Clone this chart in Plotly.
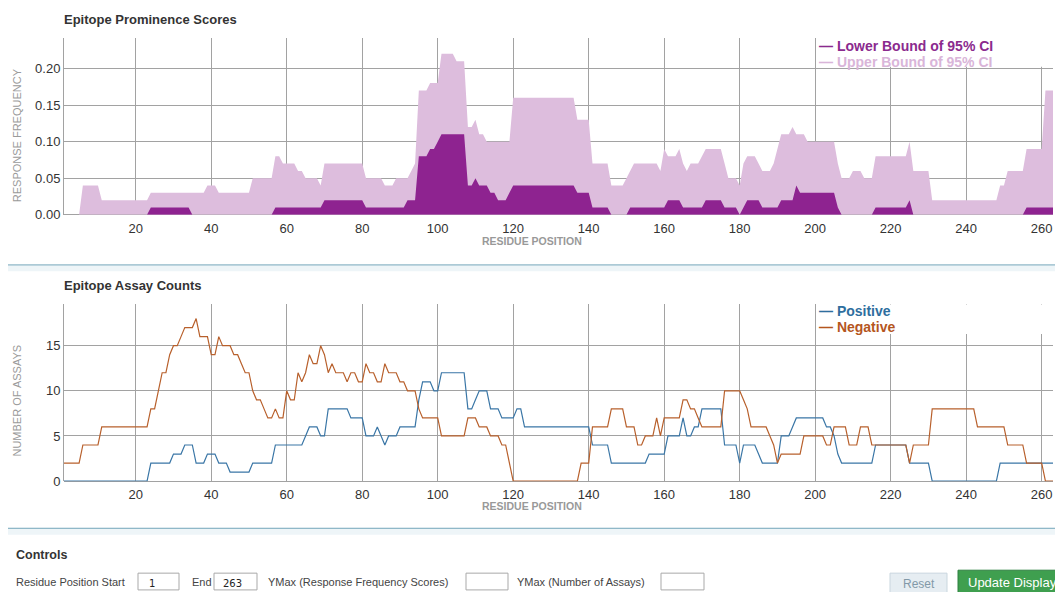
import plotly.graph_objects as go

# ---------------- data ----------------
x_ticks = [20, 40, 60, 80, 100, 120, 140, 160, 180, 200, 220, 240, 260]
y1_ticks = [0, 0.05, 0.10, 0.15, 0.20]
y1_ticktext = ["0.00", "0.05", "0.10", "0.15", "0.20"]
y2_ticks = [0, 5, 10, 15]

# step runs: value holds for residues (previous end + 1) .. end
upper_ends = [5, 10, 23, 38, 41, 50, 56, 58, 62, 64, 68, 69, 80, 85, 88, 92, 93, 94, 97, 100,
              104, 107, 109, 110, 112, 119, 136, 140, 145, 149, 150, 151, 158, 159, 160, 163, 164, 165, 166, 169,
              170, 175, 176, 179, 180, 181, 184, 185, 188, 189, 190, 193, 194, 197, 205, 206, 209, 212, 215, 224,
              225, 230, 248, 250, 255, 260, 263]
upper_vals = [0, 0.04, 0.02, 0.03, 0.04, 0.03, 0.05, 0.08, 0.07, 0.06, 0.05, 0.04, 0.07, 0.05, 0.04, 0.05, 0.06, 0.07, 0.17, 0.18,
              0.22, 0.21, 0.12, 0.13, 0.11, 0.10, 0.16, 0.13, 0.07, 0.04, 0.05, 0.06, 0.07, 0.06, 0.09, 0.08, 0.09, 0.07, 0.06, 0.07,
              0.08, 0.09, 0.07, 0.05, 0.04, 0.07, 0.08, 0.07, 0.06, 0.07, 0.09, 0.11, 0.12, 0.11, 0.10, 0.07, 0.05, 0.06, 0.05, 0.08,
              0.10, 0.06, 0.02, 0.04, 0.06, 0.09, 0.17]

lower_ends = [23, 34, 56, 69, 80, 91, 94, 97, 99, 100, 107, 109, 110, 113, 115, 118, 119, 136, 140, 145,
              150, 160, 164, 170, 175, 179, 180, 181, 185, 190, 194, 195, 205, 206, 215, 224, 225, 255, 263]
lower_vals = [0, 0.01, 0, 0.01, 0.02, 0.01, 0.02, 0.08, 0.09, 0.10, 0.11, 0.04, 0.05, 0.04, 0.03, 0.02, 0.03, 0.04, 0.03, 0.01,
              0, 0.01, 0.02, 0.01, 0.02, 0.01, 0, 0.01, 0.02, 0.01, 0.02, 0.04, 0.03, 0.01, 0, 0.01, 0.02, 0, 0.01]

pos_ends = [23, 29, 32, 35, 38, 41, 44, 50, 56, 64, 65, 68, 70, 76, 80, 83, 84, 85, 86, 89,
            94, 95, 98, 100, 107, 109, 110, 113, 116, 120, 122, 140, 145, 155, 160, 164, 165, 167, 169, 175,
            179, 180, 184, 185, 190, 193, 194, 202, 204, 205, 206, 215, 224, 230, 248, 263]
pos_vals = [0, 2, 3, 4, 2, 3, 2, 1, 2, 4, 5, 6, 5, 8, 7, 5, 6, 5, 4, 5,
            6, 9, 11, 10, 12, 8, 9, 10, 8, 7, 8, 6, 4, 2, 3, 5, 7, 5, 6, 8,
            4, 2, 4, 3, 2, 5, 6, 7, 6, 5, 3, 2, 4, 2, 0, 2]

neg_ends = [5, 10, 23, 25, 26, 28, 29, 31, 32, 35, 36, 39, 41, 42, 45, 47, 48, 50, 51, 53,
            54, 56, 57, 59, 60, 62, 63, 64, 65, 66, 68, 69, 70, 71, 72, 75, 76, 78, 80, 81,
            83, 85, 86, 89, 91, 94, 95, 100, 107, 110, 113, 116, 118, 119, 137, 140, 145, 149, 152, 154,
            157, 158, 159, 164, 166, 168, 169, 175, 180, 181, 182, 187, 188, 189, 190, 196, 202, 204, 208, 211,
            214, 224, 225, 230, 242, 250, 255, 260, 263]
neg_vals = [2, 4, 6, 8, 10, 12, 14, 15, 16, 17, 18, 16, 14, 16, 15, 14, 13, 12, 10, 9,
            8, 7, 8, 7, 10, 9, 12, 11, 12, 14, 13, 15, 14, 12, 13, 12, 11, 12, 11, 13,
            12, 11, 13, 12, 11, 10, 8, 7, 5, 7, 6, 5, 4, 2, 0, 2, 6, 8, 6, 4,
            5, 7, 5, 7, 9, 8, 7, 6, 10, 9, 8, 6, 5, 4, 2, 3, 5, 4, 6, 4,
            6, 4, 2, 4, 8, 6, 4, 2, 0]


def expand(ends, vals):
    out, start = [], 1
    for e, v in zip(ends, vals):
        out.extend([v] * (e - start + 1))
        start = e + 1
    return out


residues = list(range(1, 264))
upper = expand(upper_ends, upper_vals)
lower = expand(lower_ends, lower_vals)
positive = expand(pos_ends, pos_vals)
negative = expand(neg_ends, neg_vals)

# ---------------- page geometry ----------------
# The page body keeps the browser's default 8px margin, so the figure is sized to
# fill the 1063x600 window exactly and positions are given in window pixels.
PAGE_W, PAGE_H, M = 1063, 600, 8
W, H = PAGE_W - 2 * M, PAGE_H - 2 * M


def fx(p):
    return (p - M) / W


def fy(p):
    return 1 - (p - M) / H


GRID = "#A2A2A2"
TICKFONT = dict(family="Liberation Sans, Arial, sans-serif", size=13, color="#333333")
C_UP = "#DDBDDD"
C_LO = "#8E2390"
C_POS = "#3A76A6"
C_NEG = "#B8602C"

fig = go.Figure()
fig.add_trace(go.Scatter(x=residues, y=upper, mode="lines", fill="tozeroy",
                         fillcolor=C_UP, line=dict(width=0, color=C_UP),
                         xaxis="x", yaxis="y", hoverinfo="skip", showlegend=False))
fig.add_trace(go.Scatter(x=residues, y=lower, mode="lines", fill="tozeroy",
                         fillcolor=C_LO, line=dict(width=0, color=C_LO),
                         xaxis="x", yaxis="y", hoverinfo="skip", showlegend=False))
fig.add_trace(go.Scatter(x=residues, y=positive, mode="lines",
                         line=dict(width=1.2, color=C_POS),
                         xaxis="x2", yaxis="y2", hoverinfo="skip", showlegend=False))
fig.add_trace(go.Scatter(x=residues, y=negative, mode="lines",
                         line=dict(width=1.2, color=C_NEG),
                         xaxis="x2", yaxis="y2", hoverinfo="skip", showlegend=False))

xcommon = dict(range=[1, 263], tickmode="array", tickvals=x_ticks, showgrid=True,
               gridcolor=GRID, gridwidth=1, zeroline=False, showline=False, ticks="",
               ticklabelstandoff=4,
               tickfont=TICKFONT, fixedrange=True, domain=[fx(64), fx(1053)])
ycommon = dict(showgrid=True, gridcolor=GRID, gridwidth=1, zeroline=True, zerolinecolor=GRID,
               zerolinewidth=1, showline=True, linecolor=GRID, linewidth=1, ticks="",
               tickfont=TICKFONT, fixedrange=True, layer="below traces")

fig.update_layout(
    width=W, height=H, autosize=False,
    margin=dict(l=0, r=0, t=0, b=0),
    paper_bgcolor="white", plot_bgcolor="white",
    showlegend=False,
    xaxis=dict(anchor="y", **xcommon),
    yaxis=dict(anchor="x", domain=[fy(217.7), fy(38)], range=[0, 0.2422],
               tickmode="array", tickvals=y1_ticks, ticktext=y1_ticktext, **ycommon),
    xaxis2=dict(anchor="y2", **xcommon),
    yaxis2=dict(anchor="x2", domain=[fy(487.7), fy(308.3)], range=[0, 19.59],
                tickmode="array", tickvals=y2_ticks, **ycommon),
)

ann = []


def text(x, y, s, size=11, color="#444444", bold=False, anchor="left", family="Liberation Sans, Arial, sans-serif", angle=0):
    ann.append(dict(x=fx(x), y=fy(y), xref="paper", yref="paper", text=(f"<b>{s}</b>" if bold else s),
                    showarrow=False, xanchor=anchor, yanchor="middle", textangle=angle,
                    font=dict(family=family, size=size, color=color)))


# titles
text(62, 20, "Epitope Prominence Scores", size=13, color="#333333", bold=True)
text(62, 289, "Epitope Assay Counts", size=13, color="#333333", bold=True)
# axis titles
text(17, 137, "RESPONSE FREQUENCY", size=11, color="#9A9A9A", anchor="center", angle=-90)
text(17, 406, "NUMBER OF ASSAYS", size=11, color="#9A9A9A", anchor="center", angle=-90)
text(531.5, 244, "RESIDUE POSITION", size=10.5, color="#999999", bold=True, anchor="center")
text(531.5, 513, "RESIDUE POSITION", size=10.5, color="#999999", bold=True, anchor="center")
# legends
text(817, 46.7, "— Lower Bound of 95% CI", size=14, color="#8B2A8E", bold=True)
text(817, 62.3, "— Upper Bound of 95% CI", size=14, color="#D9B5D9", bold=True)
text(817, 315.7, "— Positive", size=14, color="#2E6E9E", bold=True)
text(817, 331.7, "— Negative", size=14, color="#B5561E", bold=True)
# controls
text(14, 563, "Controls", size=12.5, color="#333333", bold=True)
text(14, 590, "Residue Position Start", size=11)
text(190, 590, "End", size=11)
text(266, 590, "YMax (Response Frequency Scores)", size=11)
text(515, 590, "YMax (Number of Assays)", size=11)
text(147, 591, "1", size=10, color="#222222", family="DejaVu Sans")
text(221, 591, "263", size=10, color="#222222", family="DejaVu Sans")
text(919, 592, "Reset", size=12, color="#8299A8", anchor="center")
text(966, 590, "Update Display", size=13, color="#FFFFFF")

shapes = []


def rect(x0, y0, x1, y1, fill, line=None, lw=1):
    shapes.append(dict(type="rect", xref="paper", yref="paper", x0=fx(x0), x1=fx(x1), y0=fy(y1), y1=fy(y0),
                       fillcolor=fill, line=dict(color=line or fill, width=lw if line else 0), layer="above"))


# separators
for yline in (268.5, 535.5):
    rect(0, yline + 0.5, PAGE_W, yline + 6.5, "#EEF5F8")
    shapes.append(dict(type="line", xref="paper", yref="paper", x0=fx(0), x1=fx(PAGE_W), y0=fy(yline), y1=fy(yline),
                       line=dict(color="#6FA3B8", width=1)))
# input boxes
for x0, x1 in ((138, 179), (214, 257), (466, 508), (661, 704)):
    rect(x0, 581, x1, 598, "white", "#A9A9A9")
# buttons
rect(890, 581, 947, 602, "#E6EDF2", "#C9D6DE")
rect(958, 578, 1070, 602, "#3F9F4F", "#2F8040")
# white legend boxes hiding gridlines behind legend text
shapes.append(dict(type="rect", xref="x", yref="y", x0=201, x1=263, y0=0.2025, y1=0.2422,
                   fillcolor="white", line=dict(width=0), layer="between"))
shapes.append(dict(type="rect", xref="x2", yref="y2", x0=201, x1=263, y0=16.3, y1=19.59,
                   fillcolor="white", line=dict(width=0), layer="between"))

fig.update_layout(annotations=ann, shapes=shapes)
fig.write_html("out.html", config={"displayModeBar": False, "responsive": False})
